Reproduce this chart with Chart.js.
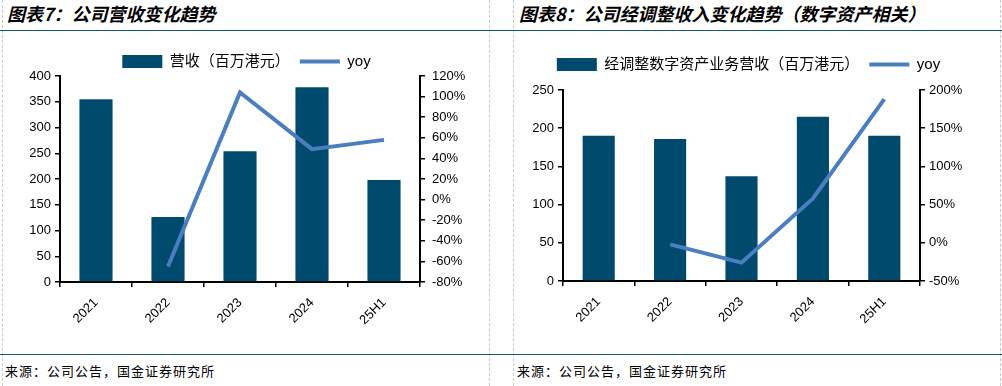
<!DOCTYPE html>
<html>
<head>
<meta charset="utf-8">
<script src="https://cdn.jsdelivr.net/npm/chart.js@4.4.1/dist/chart.umd.min.js"></script>
<style>
  body { margin:0; width:1002px; height:386px; background:#fff; position:relative; overflow:hidden;
         font-family:"Noto Sans CJK SC", sans-serif; color:#000; }
  .title { position:absolute; top:2px; font-size:18px; line-height:22px; font-weight:bold; font-style:italic; white-space:nowrap; }
  .note { position:absolute; top:363px; font-size:13px; line-height:16px; letter-spacing:1px; white-space:nowrap; }
  .hline { position:absolute; left:0; width:1002px; height:1px; background:#14597a; }
  .vline { position:absolute; top:0; height:386px; width:0; border-left:1px dashed #c8c8c8; }
  .box { position:absolute; top:36px; width:489px; height:314px; }
</style>
</head>
<body>
<div class="vline" style="left:2px"></div>
<div class="vline" style="left:489px"></div>
<div class="vline" style="left:513px"></div>
<div class="vline" style="left:1000px"></div>
<div class="hline" style="top:30px"></div>
<div class="hline" style="top:354px"></div>

<div class="title" style="left:7px">图表7：公司营收变化趋势</div>
<div class="title" style="left:519px">图表8：公司经调整收入变化趋势（数字资产相关）</div>
<div class="note" style="left:5px">来源：公司公告，国金证券研究所</div>
<div class="note" style="left:517px">来源：公司公告，国金证券研究所</div>

<div class="box" style="left:0"><canvas id="chart1"></canvas></div>
<div class="box" style="left:513px"><canvas id="chart2"></canvas></div>

<script>
const years = ['2021', '2022', '2023', '2024', '25H1']

// 图表7
const revenue = [355, 126, 254, 378, 198]
const revenueYoy = [null, -65, 104, 49, 58]

// 图表8
const digitalRevenue = [190, 186, 137, 215, 190]
const digitalYoy = [null, -2, -26, 58, 188]

const barColor = '#004a6e'
const lineColor = '#4a7ebf'
const font = {family: "'Liberation Sans', 'Noto Sans CJK SC', sans-serif", size: 13}

function makeChart(id, o) {
  new Chart(document.getElementById(id), {
    type: 'bar',
    data: {
      labels: years,
      datasets: [{
        label: o.barLabel,
        data: o.bars,
        backgroundColor: barColor,
        borderWidth: 0,
        categoryPercentage: 1,
        barPercentage: o.barPct,
        yAxisID: 'y',
        pointStyle: 'rect',
        order: 1
      }, {
        type: 'line',
        label: 'yoy',
        data: o.yoy,
        borderColor: lineColor,
        backgroundColor: lineColor,
        borderWidth: 4,
        pointRadius: 0,
        pointStyle: 'line',
        tension: 0,
        yAxisID: 'y1',
        order: 0
      }]
    },
    options: {
      responsive: true,
      maintainAspectRatio: false,
      animation: false,
      layout: {padding: {top: o.padTop, left: 0, right: 0, bottom: 0}},
      plugins: {
        tooltip: {enabled: false},
        legend: {
          labels: {
            usePointStyle: true,
            pointStyleWidth: 40,
            boxHeight: 13,
            padding: 10,
            color: '#000',
            font: {family: font.family, size: 15},
            sort: (a, b) => a.datasetIndex - b.datasetIndex
          }
        }
      },
      scales: {
        x: {
          offset: true,
          grid: {display: true, offset: true, drawOnChartArea: false, drawTicks: true, tickLength: 5, color: '#000', lineWidth: 1.5},
          border: {display: true, color: '#000', width: 2},
          ticks: {color: '#000', font: font, minRotation: 45, maxRotation: 45, autoSkip: false, padding: 8},
          afterFit: s => { s.height = o.xHeight }
        },
        y: {
          position: 'left',
          min: 0, max: o.yMax,
          grid: {drawOnChartArea: false, drawTicks: true, tickLength: 5, color: '#000', lineWidth: 1.5},
          border: {display: true, color: '#000', width: 2},
          ticks: {stepSize: o.yStep, color: '#000', font: font, padding: 4},
          afterFit: s => { s.width = o.leftW }
        },
        y1: {
          position: 'right',
          min: o.rMin, max: o.rMax,
          grid: {drawOnChartArea: false, drawTicks: true, tickLength: 5, color: '#000', lineWidth: 1.5},
          border: {display: true, color: '#000', width: 2},
          ticks: {stepSize: o.rStep, color: '#000', font: font, padding: o.rPad, callback: v => v + '%'},
          afterFit: s => { s.width = o.rightW }
        }
      }
    },
    plugins: [{
      id: 'legendGap',
      beforeInit(chart) {
        const fit = chart.legend.fit
        chart.legend.fit = function () {
          fit.call(this)
          this.height += o.legendExtra
        }
      },
      afterLayout(chart) {
        chart.legend.left += o.legendShift
        chart.legend.right += o.legendShift
      }
    }]
  })
}

makeChart('chart1', {
  barLabel: '营收（百万港元）',
  bars: revenue, yoy: revenueYoy, barPct: 0.46,
  yMax: 400, yStep: 50, rMin: -80, rMax: 120, rStep: 20, rPad: 7,
  leftW: 60, rightW: 69, xHeight: 68, padTop: 8, legendExtra: -3, legendShift: 2
})

makeChart('chart2', {
  barLabel: '经调整数字资产业务营收（百万港元）',
  bars: digitalRevenue, yoy: digitalYoy, barPct: 0.45,
  yMax: 250, yStep: 50, rMin: -50, rMax: 200, rStep: 50, rPad: 4,
  leftW: 50, rightW: 82, xHeight: 69, padTop: 11, legendExtra: 8, legendShift: -9
})
</script>
</body>
</html>
